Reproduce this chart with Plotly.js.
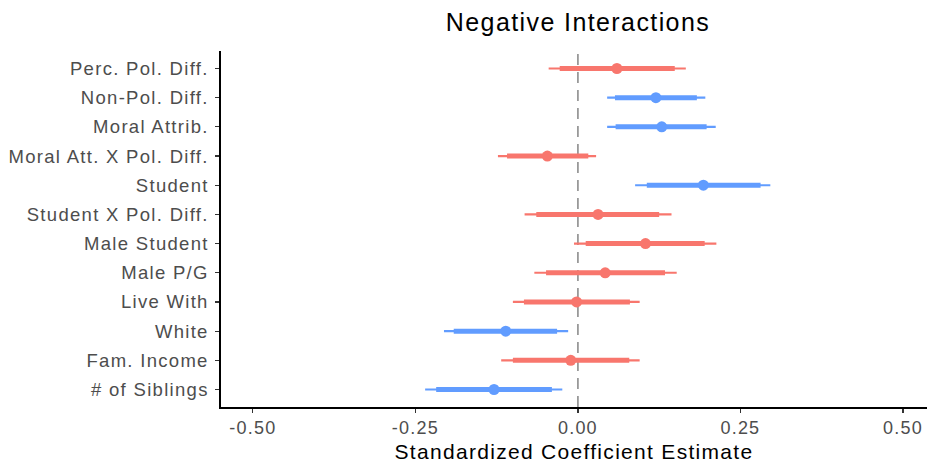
<!DOCTYPE html>
<html>
<head>
<meta charset="utf-8">
<script src="https://cdn.plot.ly/plotly-3.0.1.min.js"></script>
<style>
html,body{margin:0;padding:0;background:#fff;}
#chart{width:927px;height:468px;}
#chart .xtick text {letter-spacing:1.2px;}
#chart .ytick text {letter-spacing:1.3px;}
#chart .xtitle {letter-spacing:1.3px;}
#chart .gtitle {letter-spacing:1.4px;}
</style>
</head>
<body>
<div id="chart"></div>
<script>
const categories = ["Perc. Pol. Diff.", "Non-Pol. Diff.", "Moral Attrib.", "Moral Att. X Pol. Diff.", "Student", "Student X Pol. Diff.", "Male Student", "Male P/G", "Live With", "White", "Fam. Income", "# of Siblings"];
const estimate = [0.060, 0.120, 0.129, -0.047, 0.193, 0.031, 0.104, 0.042, -0.002, -0.111, -0.011, -0.129];
const innerLow = [-0.028, 0.057, 0.058, -0.109, 0.106, -0.064, 0.012, -0.049, -0.083, -0.191, -0.100, -0.218];
const innerHigh = [0.149, 0.183, 0.198, 0.016, 0.281, 0.125, 0.195, 0.134, 0.080, -0.032, 0.079, -0.040];
const outerLow = [-0.045, 0.045, 0.045, -0.123, 0.088, -0.082, -0.006, -0.067, -0.100, -0.206, -0.118, -0.235];
const outerHigh = [0.166, 0.196, 0.212, 0.028, 0.296, 0.144, 0.213, 0.152, 0.095, -0.015, 0.095, -0.024];
const group = ["neg", "pos", "pos", "neg", "pos", "neg", "neg", "neg", "neg", "pos", "neg", "pos"];
const xTicks = [-0.5, -0.25, 0, 0.25, 0.5];

const colors = {neg: "#F8766D", pos: "#619CFF"};
const traces = [];
function segs(lo, hi, g) {
  const x = [], y = [];
  categories.forEach((c, i) => {
    if (group[i] !== g) return;
    x.push(lo[i], hi[i], null);
    y.push(i, i, null);
  });
  return {x, y};
}
["neg", "pos"].forEach(g => {
  const s = segs(outerLow, outerHigh, g);
  traces.push({type: "scatter", mode: "lines", x: s.x, y: s.y, line: {color: colors[g], width: 2.2}, hoverinfo: "skip", showlegend: false});
});
["neg", "pos"].forEach(g => {
  const s = segs(innerLow, innerHigh, g);
  traces.push({type: "scatter", mode: "lines", x: s.x, y: s.y, line: {color: colors[g], width: 5}, hoverinfo: "skip", showlegend: false});
});
["neg", "pos"].forEach(g => {
  const x = [], y = [];
  categories.forEach((c, i) => { if (group[i] === g) { x.push(estimate[i]); y.push(i); } });
  traces.push({type: "scatter", mode: "markers", x, y, marker: {color: colors[g], size: 11}, showlegend: false});
});

const layout = {
  width: 927, height: 468,
  margin: {l: 221, r: 0, t: 51, b: 61},
  paper_bgcolor: "#fff", plot_bgcolor: "#fff",
  font: {family: "Liberation Sans, Arial, sans-serif"},
  title: {text: "Negative Interactions", x: 0.6235, xanchor: "center", y: 0.953, yanchor: "middle", font: {size: 25, color: "#000"}},
  xaxis: {
    range: [-0.549, 0.537], tickvals: xTicks, ticktext: xTicks.map(v => v.toFixed(2)),
    showgrid: false, zeroline: false, showline: true, linecolor: "#000", linewidth: 1.6,
    ticks: "outside", ticklen: 4, tickwidth: 1.2, tickcolor: "#333",
    tickfont: {size: 18, color: "#4d4d4d"},
    title: {text: "Standardized Coefficient Estimate", font: {size: 21, color: "#000"}, standoff: 7}
  },
  yaxis: {
    range: [11.6, -0.6], tickvals: categories.map((c, i) => i), ticktext: categories,
    showgrid: false, zeroline: false, showline: true, linecolor: "#000", linewidth: 1.6,
    ticks: "outside", ticklen: 4, tickwidth: 1.2, tickcolor: "#333",
    tickfont: {size: 18.5, color: "#4d4d4d"}, ticklabelstandoff: 3
  },
  shapes: [{type: "line", xref: "x", yref: "paper", x0: 0, x1: 0, y0: 0, y1: 1, layer: "below",
    line: {color: "#999999", width: 1.8, dash: "11px,7px"}}]
};
Plotly.newPlot("chart", traces, layout, {displayModeBar: false, staticPlot: true});
</script>
</body>
</html>
